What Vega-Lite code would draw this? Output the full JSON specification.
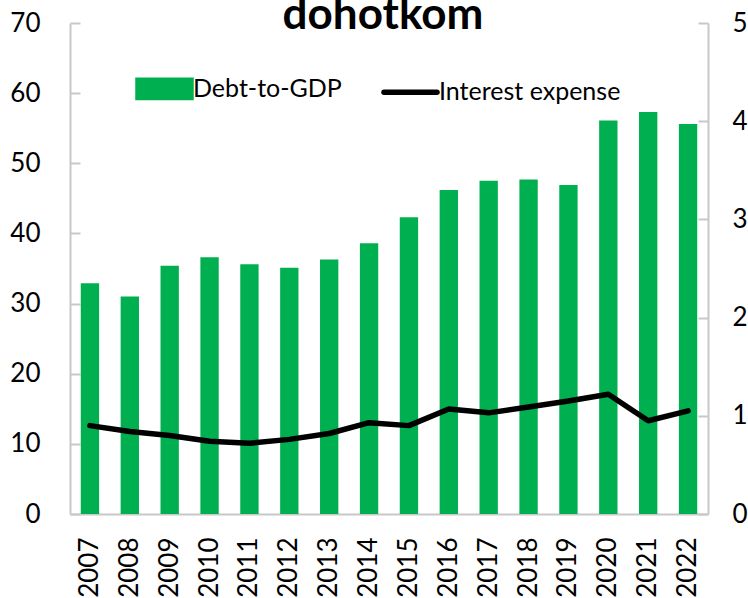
{
  "$schema": "https://vega.github.io/schema/vega-lite/v6.json",
  "width": 638,
  "height": 491,
  "autosize": {"type": "none"},
  "padding": {"left": 70, "top": 23, "right": 40, "bottom": 84},
  "background": "white",
  "title": {
    "text": "dohotkom",
    "font": "Lato",
    "fontSize": 44,
    "fontWeight": "bold",
    "color": "#000000",
    "anchor": "middle",
    "frame": "group",
    "baseline": "alphabetic",
    "offset": -63,
    "dx": -6
  },
  "data": {
    "values": [
      {"year": "2007", "debt": 32.9, "interest": 0.90},
      {"year": "2008", "debt": 31.0, "interest": 0.84},
      {"year": "2009", "debt": 35.4, "interest": 0.80},
      {"year": "2010", "debt": 36.6, "interest": 0.74},
      {"year": "2011", "debt": 35.6, "interest": 0.72},
      {"year": "2012", "debt": 35.1, "interest": 0.76},
      {"year": "2013", "debt": 36.3, "interest": 0.82},
      {"year": "2014", "debt": 38.6, "interest": 0.93},
      {"year": "2015", "debt": 42.3, "interest": 0.90},
      {"year": "2016", "debt": 46.2, "interest": 1.07},
      {"year": "2017", "debt": 47.5, "interest": 1.03},
      {"year": "2018", "debt": 47.7, "interest": 1.09},
      {"year": "2019", "debt": 46.9, "interest": 1.15},
      {"year": "2020", "debt": 56.1, "interest": 1.22},
      {"year": "2021", "debt": 57.3, "interest": 0.95},
      {"year": "2022", "debt": 55.6, "interest": 1.05}
    ]
  },
  "config": {
    "view": {"stroke": null},
    "font": "Lato",
    "axis": {"grid": false, "titleColor": "#000000"}
  },
  "encoding": {
    "x": {
      "field": "year",
      "type": "ordinal",
      "sort": null,
      "scale": {"paddingInner": 0.54, "paddingOuter": 0.27},
      "axis": {
        "title": null,
        "labelAngle": -90,
        "labelFont": "Lato",
        "labelFontSize": 26,
        "labelColor": "#000000",
        "ticks": false,
        "labelPadding": 23,
        "domainColor": "#c8c8c8",
        "domainWidth": 2
      }
    }
  },
  "layer": [
    {
      "mark": {"type": "bar"},
      "encoding": {
        "y": {
          "field": "debt",
          "type": "quantitative",
          "scale": {"domain": [0, 70], "nice": false},
          "axis": {
            "title": null,
            "values": [0, 10, 20, 30, 40, 50, 60, 70],
            "tickSize": -10,
            "tickColor": "#c8c8c8",
            "tickWidth": 2,
            "domainColor": "#c8c8c8",
            "domainWidth": 2,
            "labelFont": "Lato",
            "labelFontSize": 26,
            "labelColor": "#000000",
            "labelPadding": 40
          }
        },
        "color": {
          "datum": "Debt-to-GDP",
          "type": "nominal",
          "scale": {"domain": ["Debt-to-GDP", "Interest expense"], "range": ["#00B050", "#000000"]},
          "legend": {
            "orient": "none",
            "legendX": 65,
            "legendY": 36,
            "direction": "horizontal",
            "title": null,
            "padding": 0,
            "labelFont": "Lato",
            "labelFontSize": 25,
            "labelColor": "#000000",
            "labelLimit": 400,
            "symbolSize": 2809,
            "labelOffset": -1,
            "columnPadding": 31,
            "symbolOpacity": 1,
            "encode": {
              "symbols": {
                "update": {
                  "shape": {"signal": "datum.value === 'Debt-to-GDP' ? 'M-1,-0.33H1V0.33H-1Z' : 'stroke'"},
                  "fill": {"signal": "datum.value === 'Debt-to-GDP' ? '#00B050' : 'transparent'"},
                  "stroke": {"signal": "datum.value === 'Debt-to-GDP' ? 'transparent' : '#000000'"},
                  "strokeWidth": {"value": 5.5},
                  "strokeCap": {"value": "round"},
                  "opacity": {"value": 1}
                }
              }
            }
          }
        }
      }
    },
    {
      "mark": {"type": "line", "strokeWidth": 5.5, "strokeCap": "round", "strokeJoin": "round"},
      "encoding": {
        "y": {
          "field": "interest",
          "type": "quantitative",
          "scale": {"domain": [0, 5], "nice": false},
          "axis": {
            "orient": "right",
            "title": null,
            "values": [0, 1, 2, 3, 4, 5],
            "tickSize": -10,
            "tickColor": "#c8c8c8",
            "tickWidth": 2,
            "domainColor": "#c8c8c8",
            "domainWidth": 2,
            "labelFont": "Lato",
            "labelFontSize": 26,
            "labelColor": "#000000",
            "labelPadding": 34
          }
        },
        "color": {"datum": "Interest expense", "type": "nominal"}
      }
    }
  ],
  "resolve": {"scale": {"y": "independent"}}
}
